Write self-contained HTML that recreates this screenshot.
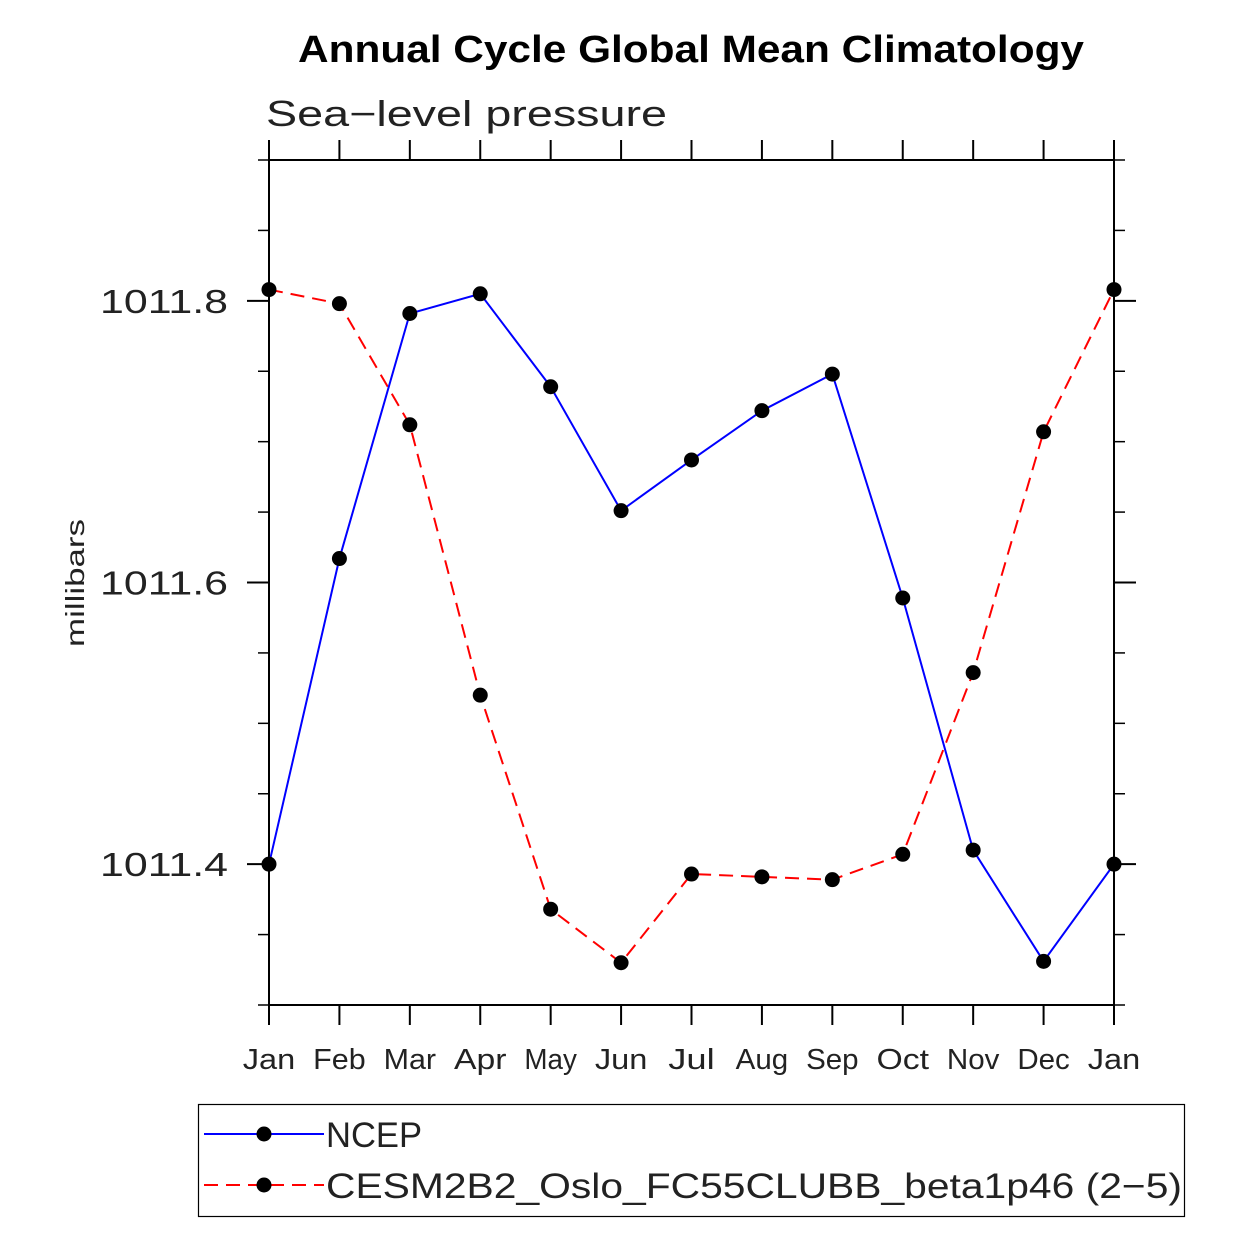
<!DOCTYPE html>
<html><head><meta charset="utf-8"><style>
body{margin:0;background:#fff}
svg text{font-family:"Liberation Sans",sans-serif}
</style></head><body>
<svg id="c" width="1246" height="1246" xmlns="http://www.w3.org/2000/svg">
<text x="298" y="62" font-size="38" font-weight="bold" textLength="786" lengthAdjust="spacingAndGlyphs">Annual Cycle Global Mean Climatology</text>
<text x="266" y="126" font-size="36" fill="#222" textLength="401" lengthAdjust="spacingAndGlyphs">Sea−level pressure</text>
<text transform="translate(84,583) rotate(-90)" text-anchor="middle" font-size="26" fill="#222" textLength="128" lengthAdjust="spacingAndGlyphs">millibars</text>
<g id="axes"></g>
<g id="series"></g>
<g>
<rect x="198.5" y="1104.5" width="986" height="112" fill="none" stroke="#000" stroke-width="1.2"/>
<line x1="204" y1="1134" x2="324" y2="1134" stroke="#00f" stroke-width="2"/>
<circle cx="264" cy="1134" r="7.5" fill="#000"/>
<text x="326" y="1147" font-size="35" fill="#222" textLength="96" lengthAdjust="spacingAndGlyphs">NCEP</text>
<line x1="204" y1="1185" x2="324" y2="1185" stroke="#f00" stroke-width="2" stroke-dasharray="14,8"/>
<circle cx="264" cy="1185" r="7.5" fill="#000"/>
<text x="326" y="1198" font-size="35" fill="#222" textLength="856" lengthAdjust="spacingAndGlyphs">CESM2B2_Oslo_FC55CLUBB_beta1p46 (2−5)</text>
</g>
</svg>
<script>
const months=["Jan","Feb","Mar","Apr","May","Jun","Jul","Aug","Sep","Oct","Nov","Dec","Jan"];
const ncep=[1011.400,1011.617,1011.791,1011.805,1011.739,1011.651,1011.687,1011.722,1011.748,1011.589,1011.410,1011.331,1011.400];
const cesm=[1011.808,1011.798,1011.712,1011.520,1011.368,1011.330,1011.393,1011.391,1011.389,1011.407,1011.536,1011.707,1011.808];
const yTicks=[1011.4,1011.6,1011.8];
const yMinor=[1011.3,1011.35,1011.45,1011.5,1011.55,1011.65,1011.7,1011.75,1011.85,1011.9];
const L=269,R=1114,T=160,B=1005,ymin=1011.3,ymax=1011.9;
const xs=i=>L+(R-L)*i/(months.length-1);
const ys=v=>B-(v-ymin)/(ymax-ymin)*(B-T);
const NS="http://www.w3.org/2000/svg";
function mk(p,t,a){const e=document.createElementNS(NS,t);for(const k in a)e.setAttribute(k,a[k]);p.appendChild(e);return e;}
const ax=document.getElementById('axes');
const fr=mk(ax,'rect',{x:L,y:T,width:R-L,height:B-T,fill:'none',stroke:'#000','stroke-width':2});


months.forEach((m,i)=>{const x=xs(i);
mk(ax,'line',{x1:x,y1:B,x2:x,y2:B+20,stroke:'#000','stroke-width':2});
mk(ax,'line',{x1:x,y1:T,x2:x,y2:T-20,stroke:'#000','stroke-width':2});
const t=mk(ax,'text',{x:x,y:1069,'text-anchor':'middle','font-size':29,fill:'#222',textLength:m.length*17.5+(m==="Jul"?-6:0),lengthAdjust:'spacingAndGlyphs'});t.textContent=m;

});
yTicks.forEach(v=>{const y=ys(v);
mk(ax,'line',{x1:L-22,y1:y,x2:L,y2:y,stroke:'#000','stroke-width':2});
mk(ax,'line',{x1:R,y1:y,x2:R+22,y2:y,stroke:'#000','stroke-width':2});
const t=mk(ax,'text',{x:228,y:y+12,'text-anchor':'end','font-size':33,fill:'#222',textLength:128,lengthAdjust:'spacingAndGlyphs'});t.textContent=v.toFixed(1);

});
yMinor.forEach(v=>{const y=ys(v);
mk(ax,'line',{x1:L-11,y1:y,x2:L,y2:y,stroke:'#000','stroke-width':1.5});
mk(ax,'line',{x1:R,y1:y,x2:R+11,y2:y,stroke:'#000','stroke-width':1.5});});
const sg=document.getElementById('series');
function draw(vals,col,dash,name){
const p=mk(sg,'polyline',{points:vals.map((v,i)=>xs(i)+','+ys(v)).join(' '),fill:'none',stroke:col,'stroke-width':2,'stroke-dasharray':dash});


vals.forEach((v,i)=>{const c=mk(sg,'circle',{cx:xs(i),cy:ys(v),r:7.5,fill:'#000'});

});}
draw(cesm,'#f00','14,8','cesm');
draw(ncep,'#00f','none','ncep');
</script>
</body></html>
